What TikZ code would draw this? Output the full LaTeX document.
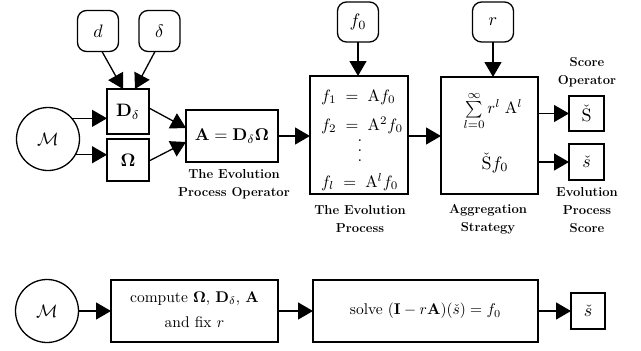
\documentclass[tikz,border=0pt]{standalone}
\usepackage{amsmath}
\usepackage{graphicx}
\usetikzlibrary{arrows.meta,calc}
\newcommand{\mth}[1]{\scalebox{1.65}{$#1$}}
\newcommand{\mthb}[1]{\scalebox{1.8}{$#1$}}
\newcommand{\txs}[1]{\scalebox{1.55}{#1}}
\begin{document}
\begin{tikzpicture}[x=1pt,y=-1pt,
  every node/.style={inner sep=0pt,outer sep=0pt},
  sq/.style={draw,line width=1.3pt},
  parbox/.style={draw,line width=1.3pt,rounded corners=9pt,minimum width=41pt,minimum height=41pt},
  circ/.style={draw,circle,line width=1.3pt,minimum size=63pt},
  lab/.style={font=\fontsize{13}{18}\selectfont\bfseries,align=center},
  arr/.style={line width=1.3pt,-{Triangle[length=15pt,width=17pt]}}]
\useasboundingbox (0,0) rectangle (641,351);
% top row
\node[parbox] (d) at (98,31) {\mthb{d}};
\node[parbox] (dl) at (159.5,31) {\mthb{\delta}};
\node[sq,minimum width=42pt,minimum height=45pt] (Dd) at (128,111.5) {\mthb{\mathbf{D}_\delta}};
\node[sq,minimum width=42pt,minimum height=42pt] (Om) at (128,160) {\mthb{\mathbf{\Omega}}};
\node[circ] (M) at (48,139) {\mthb{\mathcal{M}}};
\node[sq,minimum width=92pt,minimum height=52pt] (A) at (232,136) {\scalebox{1.7}{$\mathbf{A} = \mathbf{D}_\delta\mathbf{\Omega}$}};
\node[sq,minimum width=98pt,minimum height=118pt] (evo) at (359,135) {};
\node[parbox,minimum height=40pt] (f0) at (358,22) {\mthb{f_0}};
\node[parbox,minimum height=40pt] (r) at (493,22) {\mthb{r}};
\node[sq,minimum width=97pt,minimum height=117pt] (agg) at (489.5,135.5) {};
\node[sq,minimum width=35pt,minimum height=35pt] (S) at (586.5,113.5) {\mthb{\check{\mathrm{S}}}};
\node[sq,minimum width=35pt,minimum height=36pt] (s) at (586.5,162) {\mthb{\check{s}}};
% evolution content
\node[anchor=west] (e1) at (321,97) {\mth{f_1 \;=\; \mathrm{A}f_0}};
\node[anchor=west] (e2) at (321,125) {\mth{f_2 \;=\; \mathrm{A}^2 f_0}};
\node (edots) at (360,151) {\vbox{\baselineskip=10pt\hbox{\scalebox{1.65}{.}}\hbox{\scalebox{1.65}{.}}\hbox{\scalebox{1.65}{.}}}};
\node[anchor=west] (el) at (321,182) {\mth{f_l \;=\; \mathrm{A}^l f_0}};
% aggregation content
\node (sum) at (493,111) {\mth{\sum\limits_{l=0}^{\infty} r^l\;\mathrm{A}^l}};
\node (Sf) at (495,163) {\mthb{\check{\mathrm{S}}f_0}};
% labels
\node[lab] (lA) at (234,184) {The Evolution\\Process Operator};
\node[lab] (lE) at (360,219) {The Evolution\\Process};
\node[lab] (lG) at (488,219) {Aggregation\\Strategy};
\node[lab] (lS) at (587,72.5) {Score\\Operator};
\node[lab] (ls) at (587,210) {Evolution\\Process\\Score};
% arrows top
\coordinate (evoout) at ($(evo.east)+(0,1)$);
\draw[arr] (M.41) -- (M.41 -| Dd.west);
\draw[arr] (M.-30) -- (M.-30 -| Om.west);
\draw[arr] ($(d.south)+(4,0)$) -- ($(Dd.north)+(-5,0)$);
\draw[arr] ($(dl.south)+(-4.5,0)$) -- ($(Dd.north)+(7,0)$);
\draw[arr] ($(Dd.east)+(0,-3.5)$) -- ($(A.west)+(0,-8)$);
\draw[arr] ($(Om.east)+(0,1)$) -- ($(A.west)+(0,6)$);
\draw[arr] (A.east) -- (A.east -| evo.west);
\draw[arr] (f0.south) -- (f0.south |- evo.north);
\draw[arr] (evoout) -- (evoout -| agg.west);
\draw[arr] (r.south) -- (r.south |- agg.north);
\draw[arr] (S.west -| agg.east) -- (S.west);
\draw[arr] (s.west -| agg.east) -- (s.west);
% bottom row
\node[circ] (M2) at (47,311) {\mthb{\mathcal{M}}};
\node[sq,minimum width=167pt,minimum height=62pt] (comp) at (194.5,311) {\txs{\begin{tabular}{@{}c@{}}compute $\mathbf{\Omega}$, $\mathbf{D}_\delta$, $\mathbf{A}$\\[4pt]and fix $r$\end{tabular}}};
\node[sq,minimum width=225pt,minimum height=62pt] (solve) at (425.5,311) {\txs{solve $(\mathbf{I} - r\mathbf{A})(\check{s}) = f_0$}};
\node[sq,minimum width=34pt,minimum height=36pt] (s2) at (588,311) {\mthb{\check{s}}};
\draw[arr] (M2.east) -- (comp.west);
\draw[arr] (comp.east) -- (solve.west);
\draw[arr] (solve.east) -- (s2.west);
\end{tikzpicture}
\end{document}
